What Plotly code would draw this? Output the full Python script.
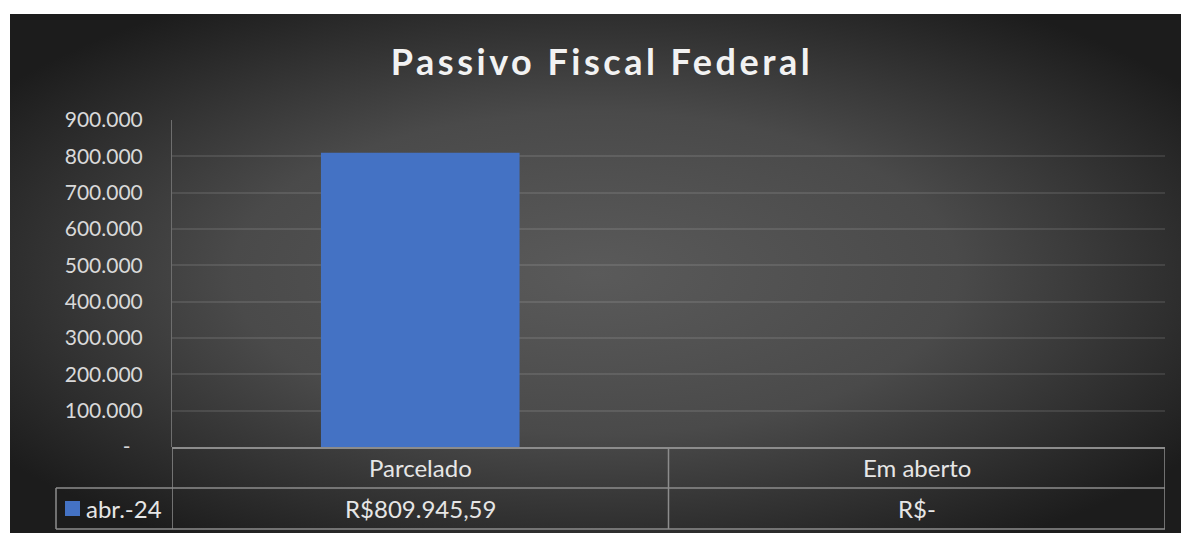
import base64
import plotly.graph_objects as go

# ---- data ----
title_text = "Passivo Fiscal Federal"
categories = ["Parcelado", "Em aberto"]
series_name = "abr.-24"
values = [809945.59, 0]
y_ticks = [0, 100000, 200000, 300000, 400000, 500000, 600000, 700000, 800000, 900000]

BAR_COLOR = "#4472C4"
W, H = 1181, 533
ML, MR, MT, MB = 172, 16, 120, 86
PW = W - ML - MR
PH = H - MT - MB
FONT = "Lato"


def px(x):
    return (x - ML) / PW


def py(y):
    return (H - MB - y) / PH


def fmt_tick(v):
    if v == 0:
        return "-\u2007"
    return f"{v:,.0f}".replace(",", ".")


def fmt_money(v):
    if v == 0:
        return "R$-"
    s = f"{v:,.2f}"
    s = s.replace(",", "#").replace(".", ",").replace("#", ".")
    return "R$" + s


# radial gradient background as svg image
svg = (
    '<svg xmlns="http://www.w3.org/2000/svg" width="1171" height="519" viewBox="0 0 1171 519" preserveAspectRatio="none">'
    '<defs><radialGradient id="g" cx="50%" cy="50%" r="62%" fx="50%" fy="50%">'
    '<stop offset="0%" stop-color="#5a5a5a"/>'
    '<stop offset="50%" stop-color="#4a4a4a"/>'
    '<stop offset="100%" stop-color="#1c1c1c"/>'
    '</radialGradient></defs>'
    '<rect x="0" y="0" width="1171" height="519" fill="url(#g)"/></svg>'
)
src = "data:image/svg+xml;base64," + base64.b64encode(svg.encode()).decode()

fig = go.Figure()
fig.add_trace(go.Bar(
    x=categories, y=values, name=series_name,
    marker=dict(color=BAR_COLOR, line=dict(width=0)),
    width=0.4, showlegend=False, hoverinfo="skip",
))

fig.add_layout_image(dict(
    source=src, xref="paper", yref="paper",
    x=px(10), y=py(14), sizex=px(W) - px(10), sizey=py(14) - py(H),
    xanchor="left", yanchor="top", sizing="stretch", layer="below",
))

shapes = []
LINE = dict(color="#8c8c8c", width=1.5)
y_top, y_mid, y_bot = py(448), py(488), py(529)
shapes.append(dict(type="line", xref="paper", yref="paper", x0=0, x1=1, y0=y_top, y1=y_top, line=dict(color="#8c8c8c", width=2)))
shapes.append(dict(type="line", xref="paper", yref="paper", x0=px(56), x1=1, y0=y_mid, y1=y_mid, line=LINE))
shapes.append(dict(type="line", xref="paper", yref="paper", x0=px(56), x1=1, y0=y_bot, y1=y_bot, line=LINE))
shapes.append(dict(type="line", xref="paper", yref="paper", x0=px(56), x1=px(56), y0=y_mid, y1=y_bot, line=LINE))
for xb in [-0.5 + i for i in range(len(categories) + 1)]:
    shapes.append(dict(type="line", xref="x", yref="paper", x0=xb, x1=xb, y0=y_top, y1=y_bot, line=LINE))
# legend key
shapes.append(dict(type="rect", xref="paper", yref="paper", x0=px(65), x1=px(80), y0=py(516), y1=py(501),
                   fillcolor=BAR_COLOR, line=dict(width=0)))

annotations = []
TXT = dict(family=FONT, size=24, color="#e6e6e6")
for i, c in enumerate(categories):
    annotations.append(dict(x=i, y=py(467), xref="x", yref="paper", text=c, showarrow=False,
                            xanchor="center", yanchor="middle", font=TXT))
    annotations.append(dict(x=i, y=py(508), xref="x", yref="paper", text=fmt_money(values[i]), showarrow=False,
                            xanchor="center", yanchor="middle", font=TXT))
annotations.append(dict(x=px(84), y=py(508), xref="paper", yref="paper", text=series_name, showarrow=False,
                        xanchor="left", yanchor="middle", font=TXT))

fig.update_layout(
    width=W, height=H,
    margin=dict(l=ML, r=MR, t=MT, b=MB, pad=0),
    paper_bgcolor="white",
    plot_bgcolor="rgba(0,0,0,0)",
    title=dict(text=f"<b>{title_text}</b>", x=602 / W, xref="container", xanchor="center",
               y=1 - 62 / H, yref="container", yanchor="middle",
               font=dict(family=FONT, size=36, color="#f2f2f2")),
    font=dict(family=FONT, color="#d9d9d9"),
    shapes=shapes,
    annotations=annotations,
    bargap=0.6,
    xaxis=dict(range=[-0.5, len(categories) - 0.5], showticklabels=False, showgrid=False,
               zeroline=False, showline=False, fixedrange=True),
    yaxis=dict(range=[0, 900000], tickvals=y_ticks, ticktext=[fmt_tick(v) for v in y_ticks],
               showgrid=True, gridcolor="rgba(255,255,255,0.10)", gridwidth=1.5,
               zeroline=False, showline=True, linecolor="#6e6e6e", linewidth=1,
               ticks="", ticklabelstandoff=24,
               tickfont=dict(family=FONT, size=21, color="#d9d9d9"), fixedrange=True),
)

post = (
    "document.body.style.margin='0';"
    "document.querySelectorAll('.gtitle').forEach(function(t){t.style.letterSpacing='3.5px';});"
)
fig.write_html("out.html", post_script=post, config={"displayModeBar": False})
